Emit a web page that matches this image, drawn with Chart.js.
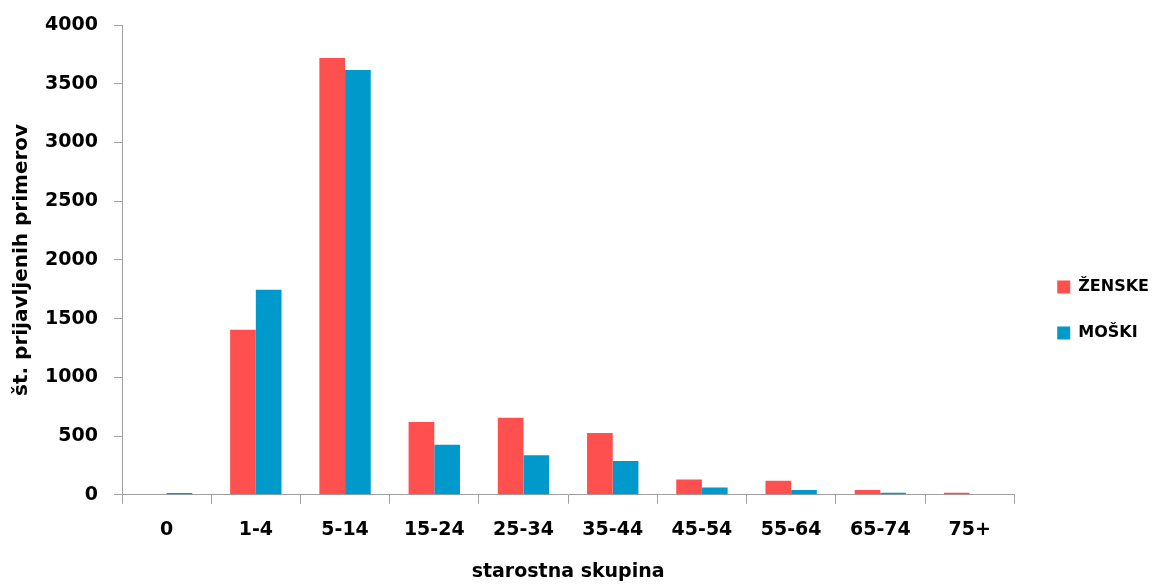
<!DOCTYPE html>
<html>
<head>
<meta charset="utf-8">
<script src="https://cdn.jsdelivr.net/npm/chart.js@4/dist/chart.umd.min.js"></script>
<style>
  html, body { margin: 0; padding: 0; background: #fff; }
  #wrap { width: 1157px; height: 585px; }
</style>
</head>
<body>
<div id="wrap"><canvas id="ages" width="1157" height="585"></canvas></div>
<script>
// starostne skupine
var categories = ["0", "1-4", "5-14", "15-24", "25-34", "35-44", "45-54", "55-64", "65-74", "75+"];
// prijavljeni primeri
var zenske = [0, 1405, 3720, 620, 655, 527, 130, 119, 40, 17];
var moski = [15, 1745, 3618, 426, 337, 288, 62, 40, 17, 0];
var yTicks = [0, 500, 1000, 1500, 2000, 2500, 3000, 3500, 4000];

var axisGray = "#a0a0a0";
var fontFam = "'DejaVu Sans', sans-serif";

// move legend a bit right / down to sit like the original
var legendShift = {
    id: 'legendShift',
    afterLayout: function (chart) {
        var lg = chart.legend;
        lg.left += 13; lg.right += 13;
        lg.top += 7; lg.bottom += 7;
    }
};

var ctx = document.getElementById("ages");
var ageChart = new Chart(ctx, {
    type: 'bar',
    data: {
        labels: categories,
        datasets: [
            {
                label: "ŽENSKE",
                backgroundColor: "#ff5050",
                borderWidth: 0,
                data: zenske
            },
            {
                label: "MOŠKI",
                backgroundColor: "#0099cc",
                borderWidth: 0,
                data: moski
            }
        ]
    },
    plugins: [legendShift],
    options: {
        responsive: false,
        animation: false,
        categoryPercentage: 0.576,
        barPercentage: 1.0,
        layout: { padding: { top: 21, right: 11, bottom: 0, left: 0 } },
        plugins: {
            tooltip: { enabled: false },
            legend: {
                position: 'right',
                labels: {
                    boxWidth: 13,
                    boxHeight: 13,
                    padding: 30,
                    color: "#000",
                    font: { family: fontFam, size: 16, weight: 'bold' }
                }
            }
        },
        scales: {
            x: {
                grid: {
                    display: true,
                    drawOnChartArea: false,
                    drawTicks: true,
                    tickLength: 9,
                    color: axisGray
                },
                border: { color: axisGray, width: 1 },
                ticks: {
                    color: "#000",
                    padding: 15,
                    maxRotation: 0,
                    font: { family: fontFam, size: 19, weight: 'bold' }
                },
                title: {
                    display: true,
                    text: "starostna skupina",
                    color: "#000",
                    padding: { top: 4, bottom: 1.6 },
                    font: { family: fontFam, size: 19, weight: 'bold' }
                }
            },
            y: {
                min: 0,
                max: 4000,
                afterFit: function (scale) { scale.width = 122; },
                afterBuildTicks: function (scale) {
                    scale.ticks = yTicks.map(function (v) { return { value: v }; });
                },
                grid: {
                    display: true,
                    drawOnChartArea: false,
                    drawTicks: true,
                    tickLength: 8,
                    color: axisGray
                },
                border: { color: axisGray, width: 1 },
                ticks: {
                    color: "#000",
                    padding: 16,
                    callback: function (v) { return String(v); },
                    font: { family: fontFam, size: 19, weight: 'bold', lineHeight: 0.95 }
                },
                title: {
                    display: true,
                    text: "št. prijavljenih primerov",
                    color: "#000",
                    padding: { top: 10, bottom: 0 },
                    font: { family: fontFam, size: 20, weight: 'bold' }
                }
            }
        }
    }
});
</script>
</body>
</html>
